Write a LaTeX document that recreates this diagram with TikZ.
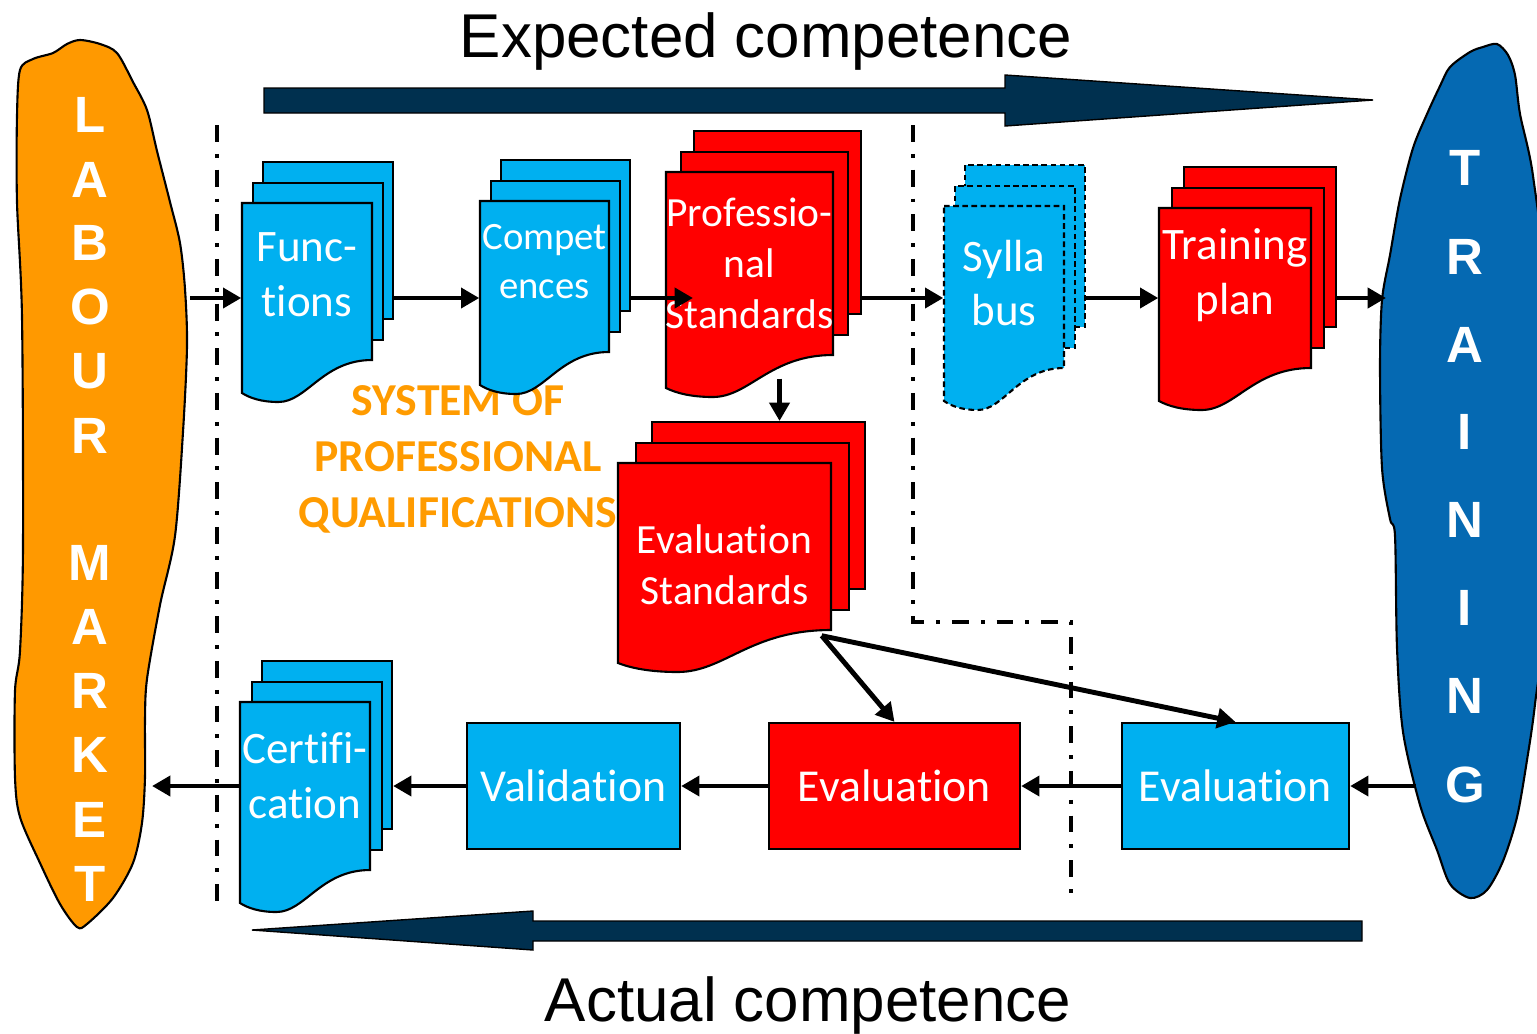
\documentclass[tikz,border=0pt]{standalone}
\usepackage{fontspec}
\setmainfont{Carlito}[Ligatures=CommonOff]
\newfontfamily\arialfont{Liberation Sans}
\usetikzlibrary{arrows.meta}

\definecolor{docblue}{HTML}{00B0F0}
\definecolor{docred}{HTML}{FF0000}
\definecolor{labourorange}{HTML}{FF9900}
\definecolor{trainingblue}{HTML}{0569B2}
\definecolor{competencenavy}{HTML}{00304F}
\definecolor{systemorange}{HTML}{FF9B00}

\tikzstyle{page}=[draw=black, line width=0.6pt]
\tikzstyle{pagetext}=[text=white, align=center, inner sep=0pt, font=\fontsize{12.8}{15.6}\selectfont]
\tikzstyle{stepbox}=[draw=black, line width=0.6pt, text=white, minimum height=1.26cm, font=\fontsize{13}{15}\selectfont]
\tikzstyle{flow}=[line width=1.4pt, -{Triangle[length=5.2pt,width=5.6pt]}]
\tikzstyle{boundary}=[line width=1.1pt, dash pattern=on 4.8pt off 3.4pt on 1.1pt off 3.4pt]
\tikzstyle{blobletter}=[text=white, font=\arialfont\bfseries\fontsize{14.5}{16}\selectfont]
\tikzstyle{bigarrow}=[fill=competencenavy, draw=black, line width=0.4pt]

% three stacked pages: name, x, y, width, height, offset, page style, text style, text
\newcommand{\docstack}[9]{%
  \node[page, #7, anchor=north west, inner sep=0pt, minimum width=#4*0.01cm, minimum height=#5*0.01cm] (#1-back) at ({#2+2*#6},{#3-42}) {};
  \node[page, #7, anchor=north west, inner sep=0pt, minimum width=#4*0.01cm, minimum height=#5*0.01cm] (#1-mid) at ({#2+#6},{#3-21}) {};
  \filldraw[page, #7] (#2,#3) -- ({#2+#4},#3) -- ({#2+#4},{#3+#5})
    .. controls ({#2+0.62*#4},{#3+#5}) and ({#2+0.5*#4},{#3+#5+42}) .. ({#2+0.28*#4},{#3+#5+42})
    .. controls ({#2+0.15*#4},{#3+#5+42}) and ({#2+0.06*#4},{#3+#5+38}) .. (#2,{#3+#5+33}) -- cycle;
  \node[pagetext, minimum width=#4*0.01cm, minimum height=#5*0.01cm, #8] (#1) at ({#2+0.5*#4},{#3+0.5*#5}) {#9};
}

\begin{document}
\begin{tikzpicture}[x=0.01cm, y=-0.01cm]
	\useasboundingbox (0,0) rectangle (1537,1033);

	% labour market / training
	\filldraw[fill=labourorange, draw=black, line width=0.6pt] plot[smooth cycle, tension=0.5] coordinates {
		(80,40) (100,44) (117,53) (133,82) (147,110) (157,151) (170,202) (180,243) (185,289) (187,346)
		(183,432) (175,536) (160,605) (147,679) (145,720) (145,777) (142,823) (133,863) (113,898) (87,924)
		(77,927) (60,904) (40,863) (20,817) (15,777) (15,691) (20,651) (23,547) (22,317) (17,202)
		(17,116) (20,70) (33,59) (53,53) (67,44)};
	\filldraw[fill=trainingblue, draw=black, line width=0.6pt] plot[smooth cycle, tension=0.5] coordinates {
		(1497,44) (1508,55) (1515,75) (1520,114) (1533,176) (1545,300) (1545,600) (1535,704) (1527,760)
		(1517,817) (1503,861) (1487,890) (1470,898) (1450,884) (1437,850) (1420,805) (1403,732) (1397,648)
		(1395,536) (1390,519) (1382,468) (1380,367) (1382,300) (1390,255) (1400,199) (1413,148) (1427,114)
		(1440,86) (1450,67) (1470,52) (1483,47)};
	\foreach \ch/\yy [count=\i] in {L/115,A/180,B/243,O/307,U/371,R/436,M/563,A/627,R/691,K/755,E/820,T/884}
		\node[blobletter] (lm\i) at (90,\yy) {\ch};
	\foreach \ch/\yy [count=\i] in {T/168,R/257,A/345,I/432,N/520,I/608,N/696,G/785}
		\node[blobletter] (tr\i) at (1465,\yy) {\ch};

	% competence arrows
	\filldraw[bigarrow] (264,88) -- (1005,88) -- (1005,75) -- (1373,100) -- (1005,126) -- (1005,113) -- (264,113) -- cycle;
	\filldraw[bigarrow] (1362,921) -- (533,921) -- (533,911) -- (252,930) -- (533,950) -- (533,941) -- (1362,941) -- cycle;
	\node[font=\arialfont\fontsize{17.6}{20}\selectfont, anchor=base] (expected) at (766,57) {Expected competence};
	\node[font=\arialfont\fontsize{17.6}{20}\selectfont, anchor=base] (actual) at (808,1021) {Actual competence};

	\draw[boundary] (217,125) -- (217,905);
	\draw[boundary] (913,125) -- (913,622) -- (1071,622) -- (1071,900);

	\node[text=systemorange, font=\bfseries\fontsize{13}{15.9}\selectfont, align=center] (sysq) at (458,459) {SYSTEM OF\\PROFESSIONAL\\QUALIFICATIONS};

	\docstack{func}{242}{203}{130}{157}{10}{fill=docblue}{yshift=0.07cm}{Func-\\tions}
	\docstack{comp}{480}{201}{129}{151}{10}{fill=docblue}{yshift=0.15cm, font=\fontsize{11}{13.7}\selectfont}{Compet\\ences}
	\docstack{prof}{666}{172}{167}{183}{13.5}{fill=docred}{font=\fontsize{11.8}{14.5}\selectfont}{Professio-\\nal\\Standards}
	\docstack{syl}{944}{206}{120}{162}{10}{fill=docblue, dash pattern=on 1.6pt off 1pt}{yshift=0.04cm}{Sylla\\bus}
	\docstack{plan}{1159}{208}{152}{160}{12}{fill=docred}{yshift=0.13cm}{Training\\plan}
	\docstack{evst}{618}{463}{213}{167}{16.5}{fill=docred}{yshift=-0.18cm, font=\fontsize{11.8}{14.5}\selectfont}{Evaluation\\Standards}
	\docstack{cert}{240}{702}{130}{168}{10.5}{fill=docblue}{yshift=0.1cm}{Certifi-\\cation}

	\node[stepbox, fill=docblue, minimum width=2.13cm] (valid) at (573.5,786) {Validation};
	\node[stepbox, fill=docred, minimum width=2.51cm] (evred) at (894.5,786) {Evaluation};
	\node[stepbox, fill=docblue, minimum width=2.27cm] (evblue) at (1235.5,786) {Evaluation};

	\coordinate (row1) at (0,298);
	\coordinate (row2) at (0,786);
	\coordinate (lm-out) at (190,298);
	\coordinate (lm-in) at (152,786);
	\coordinate (tr-in) at (1386,298);
	\coordinate (tr-out) at (1416,786);

	\draw[flow] (lm-out) -- (func.west |- row1);
	\draw[flow] (func-back.east |- row1) -- (comp.west |- row1);
	\draw[flow] (comp-back.east |- row1) -- (prof-back.west |- row1);
	\draw[flow] (prof-back.east |- row1) -- (syl.west |- row1);
	\draw[flow] (syl-back.east |- row1) -- (plan.west |- row1);
	\draw[flow] (plan-back.east |- row1) -- (tr-in);
	\draw[flow] ([xshift=0.3cm,yshift=-0.23cm]prof.south) -- ([xshift=0.3cm]prof.south |- evst-back.north);
	\draw[flow] ([xshift=-0.1cm,yshift=0.13cm]evst.south east) -- (evred.north);
	\draw[flow] ([xshift=-0.1cm,yshift=0.13cm]evst.south east) -- (evblue.north);
	\draw[flow] (tr-out) -- (evblue.east);
	\draw[flow] (evblue.west) -- (evred.east);
	\draw[flow] (evred.west) -- (valid.east);
	\draw[flow] (valid.west) -- (cert-back.east |- row2);
	\draw[flow] (cert.west |- row2) -- (lm-in);
\end{tikzpicture}
\end{document}
